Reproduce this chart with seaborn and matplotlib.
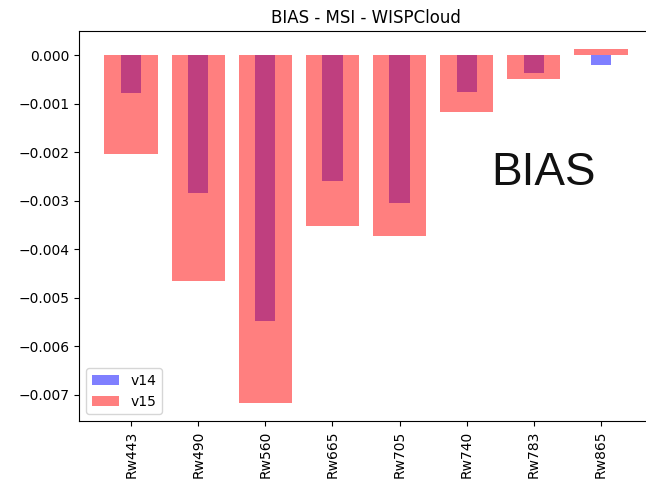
import matplotlib
matplotlib.use("Agg")
import matplotlib.pyplot as plt
from matplotlib.transforms import Bbox
import seaborn as sns
import pandas as pd

# Mean bias of remote-sensing reflectance per MSI band
bands = ["Rw443", "Rw490", "Rw560", "Rw665", "Rw705", "Rw740", "Rw783", "Rw865"]
bias_v14 = [-0.00078, -0.00283, -0.00548, -0.00259, -0.00305, -0.00075, -0.00036, -0.00021]
bias_v15 = [-0.00203, -0.00465, -0.00716, -0.00353, -0.00373, -0.00116, -0.000495, 0.00012]

df14 = pd.DataFrame({"band": bands, "bias": bias_v14})
df15 = pd.DataFrame({"band": bands, "bias": bias_v15})

plt.rcParams["font.family"] = ["DejaVu Sans"]
W, H = 680, 486  # canvas in pixels; the saved region is the left 646 px
fig = plt.figure(figsize=(W / 100, H / 100), dpi=100)
ax = fig.add_axes([79 / W, 1 - 421 / H, (653 - 79) / W, (421 - 31) / H])

sns.barplot(data=df14, x="band", y="bias", color="blue", alpha=0.5, width=0.3,
            saturation=1, linewidth=0, label="v14", ax=ax)
sns.barplot(data=df15, x="band", y="bias", color="red", alpha=0.5, width=0.8,
            saturation=1, linewidth=0, label="v15", ax=ax)

ax.set_xlim(-0.78, 7.78)
ax.set_ylim(-0.00754, 0.0005)
ax.set_yticks([0.0, -0.001, -0.002, -0.003, -0.004, -0.005, -0.006, -0.007])
ax.set_yticklabels(["0.000", "\u22120.001", "\u22120.002", "\u22120.003",
                    "\u22120.004", "\u22120.005", "\u22120.006", "\u22120.007"])
ax.tick_params(axis="x", labelrotation=90)
ax.set_xlabel("")
ax.set_ylabel("")
ax.spines["right"].set_visible(False)
ax.set_title("BIAS - MSI - WISPCloud", fontsize=12)
ax.legend(loc="lower left")

fig.text(491 / W, 1 - 185 / H, "BIAS", fontsize=33, family="Liberation Sans",
         color="#111111", ha="left", va="baseline")

fig.savefig("out.png", dpi=100, bbox_inches=Bbox([[0, 0], [6.46, 4.86]]))
